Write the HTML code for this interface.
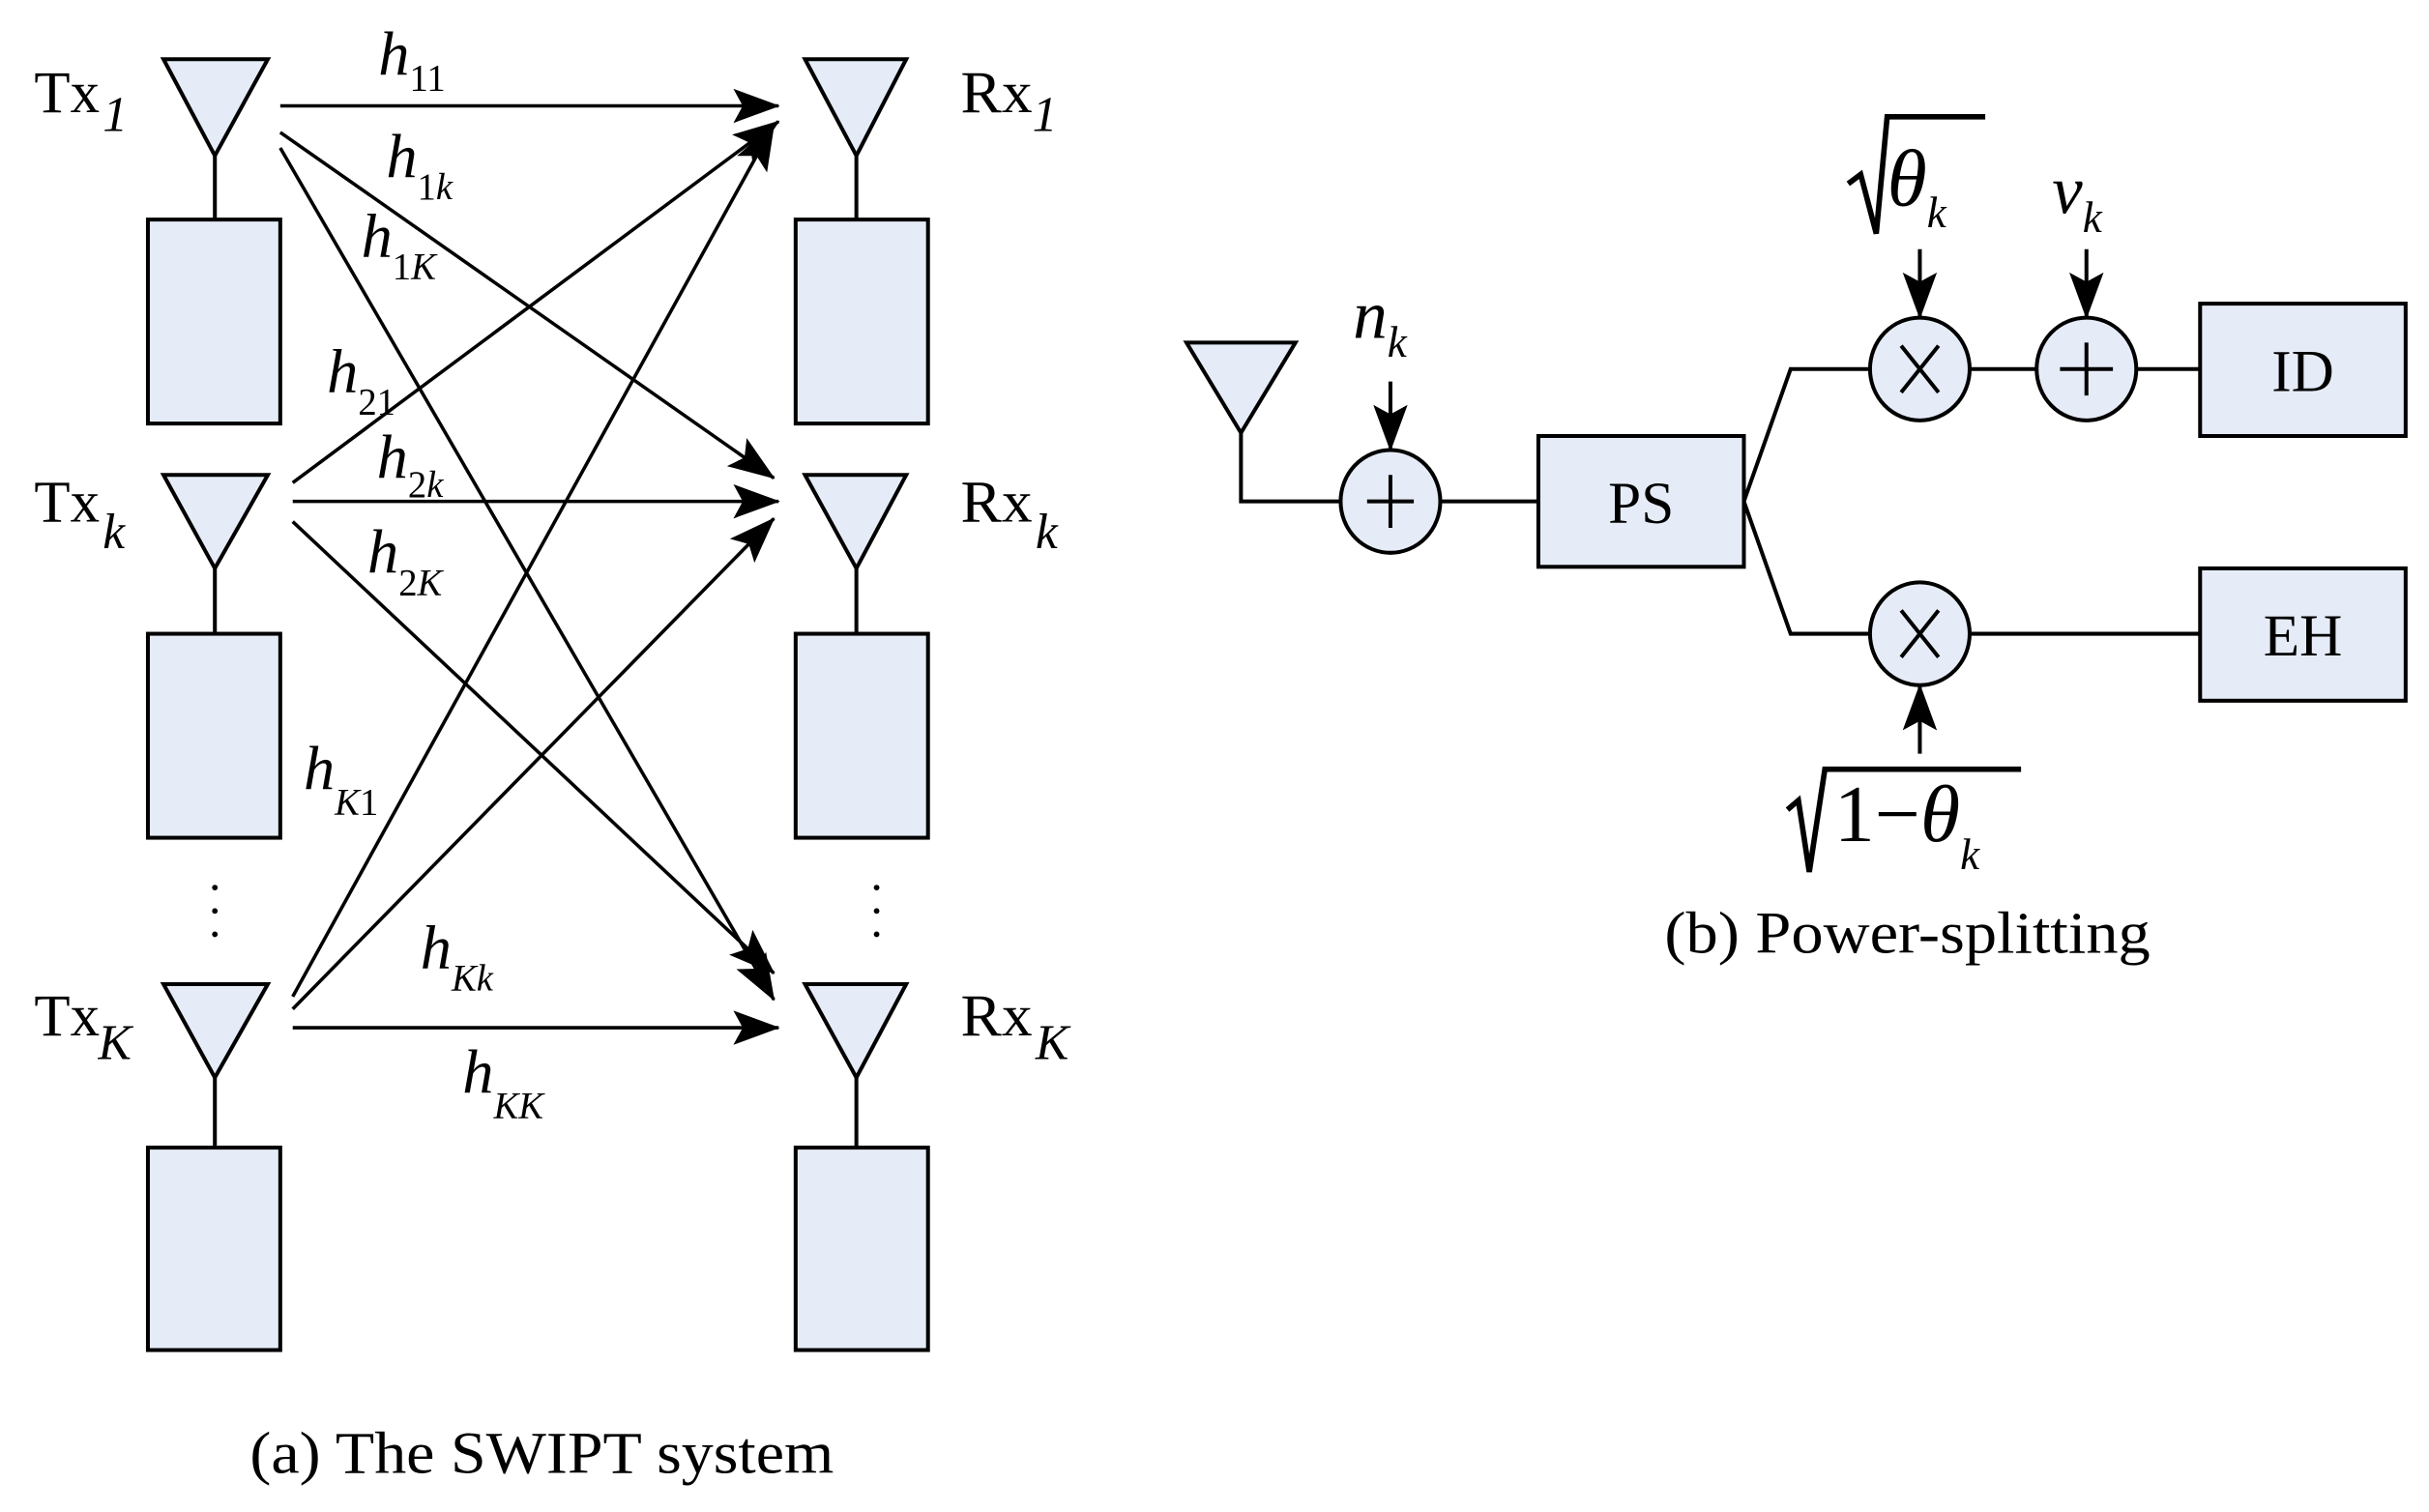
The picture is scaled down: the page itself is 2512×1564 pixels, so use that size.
<!DOCTYPE html>
<html><head><style>html,body{margin:0;padding:0;background:#fff}svg{display:block}</style></head><body>
<svg width="2512" height="1564" viewBox="0 0 1560 971" preserveAspectRatio="none" xmlns="http://www.w3.org/2000/svg" font-family="Liberation Serif, serif">
<defs>
<marker id="b" markerWidth="30" markerHeight="22" refX="29" refY="11" orient="auto" markerUnits="userSpaceOnUse"><path d="M0,0 L30,11 L0,22 L6,11 Z" fill="#000"/></marker>
</defs>
<g stroke="#000" stroke-width="2.5" fill="#e6ecf7">
<path d="M105,38 L172,38 L138,100 Z"/><line x1="138" y1="100" x2="138" y2="141"/><rect x="95" y="141" width="85" height="131"/>
<path d="M105,305 L172,305 L138,365 Z"/><line x1="138" y1="365" x2="138" y2="407"/><rect x="95" y="407" width="85" height="131"/>
<path d="M105,632 L172,632 L138,692 Z"/><line x1="138" y1="692" x2="138" y2="737"/><rect x="95" y="737" width="85" height="130"/>
<path d="M517,38 L582,38 L550,100 Z"/><line x1="550" y1="100" x2="550" y2="141"/><rect x="511" y="141" width="85" height="131"/>
<path d="M517,305 L582,305 L550,365 Z"/><line x1="550" y1="365" x2="550" y2="407"/><rect x="511" y="407" width="85" height="131"/>
<path d="M517,632 L582,632 L550,692 Z"/><line x1="550" y1="692" x2="550" y2="737"/><rect x="511" y="737" width="85" height="130"/>
</g>
<g stroke="#000" stroke-width="2.2" fill="none" marker-end="url(#b)">
<line x1="180" y1="68" x2="500" y2="68"/>
<line x1="180" y1="85" x2="497" y2="307"/>
<line x1="180" y1="95" x2="497" y2="642"/>
<line x1="188" y1="310" x2="500" y2="78"/>
<line x1="188" y1="322" x2="500" y2="322"/>
<line x1="188" y1="335" x2="497" y2="625"/>
<line x1="188" y1="640" x2="497" y2="80"/>
<line x1="188" y1="648" x2="497" y2="333"/>
<line x1="188" y1="660" x2="500" y2="660"/>
</g>
<g fill="#000"><circle cx="138" cy="570" r="1.8"/><circle cx="138" cy="585" r="1.8"/><circle cx="138" cy="600" r="1.8"/>
<circle cx="563" cy="570" r="1.8"/><circle cx="563" cy="585" r="1.8"/><circle cx="563" cy="600" r="1.8"/></g>
<g font-size="38">
<text x="22" y="72" textLength="42" lengthAdjust="spacingAndGlyphs">Tx</text><text x="66" y="84" font-style="italic" font-size="32">1</text>
<text x="22" y="335" textLength="42" lengthAdjust="spacingAndGlyphs">Tx</text><text x="66" y="352" font-style="italic" font-size="32">k</text>
<text x="22" y="665" textLength="42" lengthAdjust="spacingAndGlyphs">Tx</text><text x="63" y="680" font-style="italic" font-size="32">K</text>
<text x="617" y="72" textLength="46" lengthAdjust="spacingAndGlyphs">Rx</text><text x="663" y="84" font-style="italic" font-size="32">1</text>
<text x="617" y="335" textLength="46" lengthAdjust="spacingAndGlyphs">Rx</text><text x="665" y="352" font-style="italic" font-size="32">k</text>
<text x="617" y="665" textLength="46" lengthAdjust="spacingAndGlyphs">Rx</text><text x="665" y="680" font-style="italic" font-size="32">K</text>
</g>
<g font-size="40" font-style="italic">
<text x="243" y="48">h<tspan font-size="24" font-style="normal" dy="10">11</tspan></text>
<text x="248" y="114">h<tspan font-size="24" dy="14"><tspan font-style="normal">1</tspan>k</tspan></text>
<text x="232" y="165">h<tspan font-size="24" dy="14"><tspan font-style="normal">1</tspan>K</tspan></text>
<text x="210" y="252">h<tspan font-size="24" font-style="normal" dy="14">21</tspan></text>
<text x="242" y="307">h<tspan font-size="24" dy="12"><tspan font-style="normal">2</tspan>k</tspan></text>
<text x="236" y="368">h<tspan font-size="24" dy="14"><tspan font-style="normal">2</tspan>K</tspan></text>
<text x="195" y="507">h<tspan font-size="24" dy="16">K<tspan font-style="normal">1</tspan></tspan></text>
<text x="270" y="622">h<tspan font-size="24" dy="14">Kk</tspan></text>
<text x="297" y="702">h<tspan font-size="24" dy="16">KK</tspan></text>
</g>
<text x="348" y="946" font-size="38" text-anchor="middle" textLength="375" lengthAdjust="spacingAndGlyphs">(a) The SWIPT system</text>
<g transform="translate(-6,0)">
<g stroke="#000" stroke-width="2.5" fill="#e6ecf7">
<path d="M768,220 L838,220 L803,278 Z"/>
<polyline fill="none" points="803,278 803,322 867,322"/>
<ellipse cx="899" cy="322" rx="32" ry="33"/>
<line x1="931" y1="322" x2="994" y2="322"/>
<rect x="994" y="280" width="132" height="84"/>
<polyline fill="none" points="1126,322 1156,237 1207,237"/>
<polyline fill="none" points="1126,322 1156,407 1207,407"/>
<ellipse cx="1239" cy="237" rx="32" ry="33"/>
<ellipse cx="1239" cy="407" rx="32" ry="33"/>
<ellipse cx="1346" cy="237" rx="32" ry="33"/>
<line x1="1271" y1="237" x2="1314" y2="237"/>
<line x1="1378" y1="237" x2="1419" y2="237"/>
<line x1="1271" y1="407" x2="1419" y2="407"/>
<rect x="1419" y="195" width="132" height="85"/>
<rect x="1419" y="365" width="132" height="85"/>
<line x1="884" y1="322" x2="914" y2="322"/><line x1="899" y1="305" x2="899" y2="339"/>
<line x1="1329" y1="237" x2="1363" y2="237"/><line x1="1346" y1="220" x2="1346" y2="254"/>
<line x1="1227" y1="222" x2="1251" y2="252"/><line x1="1251" y1="222" x2="1227" y2="252"/>
<line x1="1227" y1="392" x2="1251" y2="422"/><line x1="1251" y1="392" x2="1227" y2="422"/>
</g>
<g stroke="#000" stroke-width="2.5" marker-end="url(#b)">
<line x1="899" y1="245" x2="899" y2="289"/>
<line x1="1239" y1="160" x2="1239" y2="204"/>
<line x1="1346" y1="160" x2="1346" y2="204"/>
<line x1="1239" y1="484" x2="1239" y2="440"/>
</g>
<g font-size="38" text-anchor="middle"><text x="1060" y="336">PS</text><text x="1485" y="251">ID</text><text x="1485" y="421">EH</text></g>
<g font-size="44" font-style="italic">
<text x="875" y="217">n<tspan font-size="28" dy="12">k</tspan></text>
<text x="1324" y="137">v<tspan font-size="28" dy="12">k</tspan></text>
<text x="1218" y="132" font-size="52">θ<tspan font-size="28" dy="14">k</tspan></text>
<text x="1184" y="540" font-size="52"><tspan font-style="normal">1−</tspan>θ<tspan font-size="28" dy="18">k</tspan></text>
</g>
<g stroke="#000" fill="none" stroke-width="3.5">
<polyline points="1193,118 1201,112 1211,150 1218,75 1281,75"/>
<polyline points="1154,520 1161,514 1168,560 1178,494 1304,494"/>
</g>
<text x="1231" y="612" font-size="38" text-anchor="middle" textLength="312" lengthAdjust="spacingAndGlyphs">(b) Power-splitting</text>
</g>
</svg>
</body></html>
